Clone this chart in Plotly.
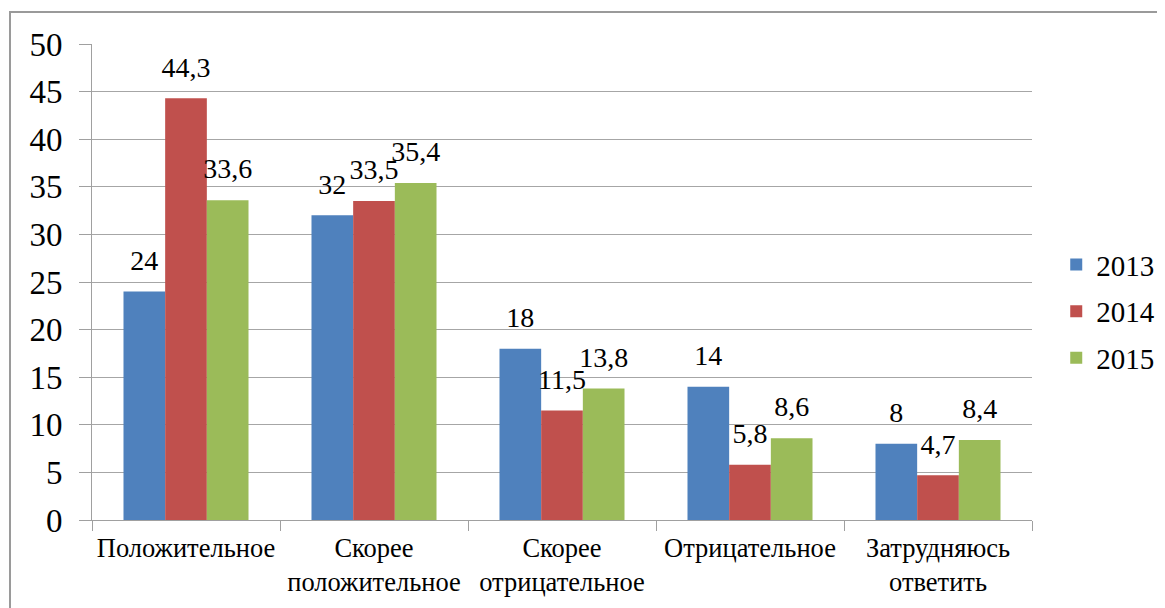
import plotly.graph_objects as go

categories = ["Положительное", "Скорее<br>положительное", "Скорее<br>отрицательное",
              "Отрицательное", "Затрудняюсь<br>ответить"]
years = ["2013", "2014", "2015"]
values_2013 = [24, 32, 18, 14, 8]
values_2014 = [44.3, 33.5, 11.5, 5.8, 4.7]
values_2015 = [33.6, 35.4, 13.8, 8.6, 8.4]
colors = ["#4F81BD", "#C0504D", "#9BBB59"]
y_ticks = [0, 5, 10, 15, 20, 25, 30, 35, 40, 45, 50]

FONT = "Liberation Serif"
BARGAP = 0.335


def fmt(v):
    s = ("%g" % v)
    return s.replace(".", ",")


fig = go.Figure()
for name, vals, col in zip(years, [values_2013, values_2014, values_2015], colors):
    fig.add_trace(go.Bar(
        x=categories, y=vals, name=name, legendgroup=name,
        offsetgroup=name,
        marker=dict(color=col, line=dict(width=0)),
    ))
for name, vals in zip(years, [values_2013, values_2014, values_2015]):
    fig.add_trace(go.Scatter(
        x=categories, y=vals, name=name, legendgroup=name, showlegend=False,
        offsetgroup=name, mode="markers+text",
        marker=dict(size=22, opacity=0),
        text=[fmt(v) for v in vals], textposition="top center",
        textfont=dict(family=FONT, size=28, color="black"),
        cliponaxis=False, hoverinfo="skip",
    ))

fig.update_layout(
    width=1157, height=600,
    margin=dict(l=84, r=133, t=36, b=88, autoexpand=False),
    paper_bgcolor="white", plot_bgcolor="white",
    barmode="group", bargap=BARGAP, bargroupgap=0,
    scattermode="group", scattergap=BARGAP,
    font=dict(family=FONT, color="black"),
    showlegend=True,
    legend=dict(x=0.906, y=0.494, xref="container", yref="container",
                xanchor="left", yanchor="middle",
                font=dict(family=FONT, size=29, color="black"),
                tracegroupgap=6, bgcolor="rgba(0,0,0,0)"),
)
fig.update_xaxes(
    showline=True, linecolor="#A0A0A0", linewidth=1,
    ticks="outside", tickson="boundaries", ticklen=10, tickcolor="#A0A0A0",
    ticklabelstandoff=4, tickangle=0,
    tickfont=dict(family=FONT, size=26.5, color="black"),
    showgrid=False, automargin=False,
)
fig.update_yaxes(
    range=[0, 50], tickvals=y_ticks,
    showline=True, linecolor="#A0A0A0", linewidth=1,
    ticks="outside", ticklen=12, tickcolor="#A0A0A0",
    ticklabelstandoff=10,
    showgrid=True, gridcolor="#A6A6A6", gridwidth=1,
    tickfont=dict(family=FONT, size=33, color="black"),
    zeroline=False, automargin=False,
)
# outer chart frame
fig.add_shape(type="rect", xref="paper", yref="paper",
              x0=(2 - 84) / 940, x1=(1155 - 84) / 940,
              y0=-0.3, y1=(476 + 32) / 476,
              line=dict(color="#9A9A9A", width=2), fillcolor="rgba(0,0,0,0)",
              layer="below")

fig.write_html("out.html")
